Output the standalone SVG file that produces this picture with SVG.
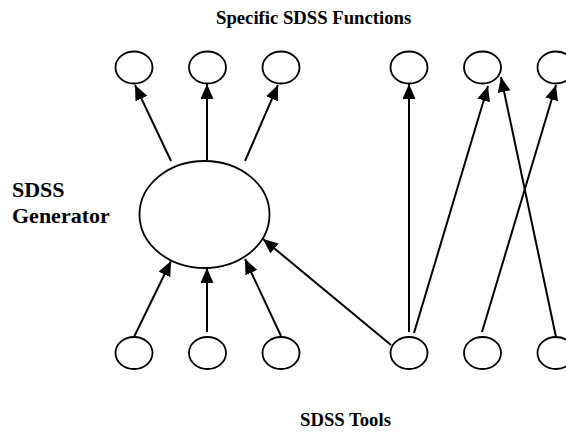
<svg xmlns="http://www.w3.org/2000/svg" width="566" height="439" viewBox="0 0 566 439">
<style>
.n{fill:#fff;stroke:#000;stroke-width:1.8}
.c{fill:none;stroke:#000;stroke-width:2;marker-end:url(#ah)}
.t{font-family:"Liberation Serif","Times New Roman",serif;font-weight:bold;font-size:18.7px;fill:#000}
.g{font-size:22px}
</style>
<defs>
<marker id="ah" markerUnits="userSpaceOnUse" markerWidth="16" markerHeight="14" refX="15" refY="6.5" orient="auto">
<path d="M0,0 L15,6.5 L0,13 Z" fill="#000"/>
</marker>
</defs>
<rect width="566" height="439" fill="#fff"/>
<g id="labels">
<text class="t" x="216" y="24">Specific SDSS Functions</text>
<text class="t g" x="12" y="197">SDSS</text>
<text class="t g" x="12" y="223">Generator</text>
<text class="t" x="300" y="426">SDSS Tools</text>
</g>
<g id="connectors">
<path class="c" d="M171,161 L135,85"/>
<path class="c" d="M207,160 L207,84"/>
<path class="c" d="M245,161 L278,85"/>
<path class="c" d="M134,337 L171,261"/>
<path class="c" d="M207,332 L207,268"/>
<path class="c" d="M281,336 L245,259"/>
<path class="c" d="M391,345 L263,239"/>
<path class="c" d="M409,332 L409,84"/>
<path class="c" d="M414,333 L488,86"/>
<path class="c" d="M482,332 L556,85"/>
<path class="c" d="M556,337 L501,77"/>
</g>
<g id="f1"><ellipse class="n" cx="134" cy="67.5" rx="18.5" ry="16"/></g>
<g id="f2"><ellipse class="n" cx="207.5" cy="67.5" rx="18.5" ry="16"/></g>
<g id="f3"><ellipse class="n" cx="281" cy="67.5" rx="18.5" ry="16"/></g>
<g id="f4"><ellipse class="n" cx="409" cy="67.5" rx="18.5" ry="16"/></g>
<g id="f5"><ellipse class="n" cx="482.5" cy="67.5" rx="18.5" ry="16"/></g>
<g id="f6"><ellipse class="n" cx="556" cy="67.5" rx="18.5" ry="16"/></g>
<g id="generator"><ellipse class="n" cx="204.5" cy="214.5" rx="65" ry="53.5"/></g>
<g id="t1"><ellipse class="n" cx="134" cy="353" rx="18.5" ry="16"/></g>
<g id="t2"><ellipse class="n" cx="207.5" cy="353" rx="18.5" ry="16"/></g>
<g id="t3"><ellipse class="n" cx="281" cy="353" rx="18.5" ry="16"/></g>
<g id="t4"><ellipse class="n" cx="409" cy="353" rx="18.5" ry="16"/></g>
<g id="t5"><ellipse class="n" cx="482.5" cy="353" rx="18.5" ry="16"/></g>
<g id="t6"><ellipse class="n" cx="556" cy="353" rx="18.5" ry="16"/></g>
</svg>
